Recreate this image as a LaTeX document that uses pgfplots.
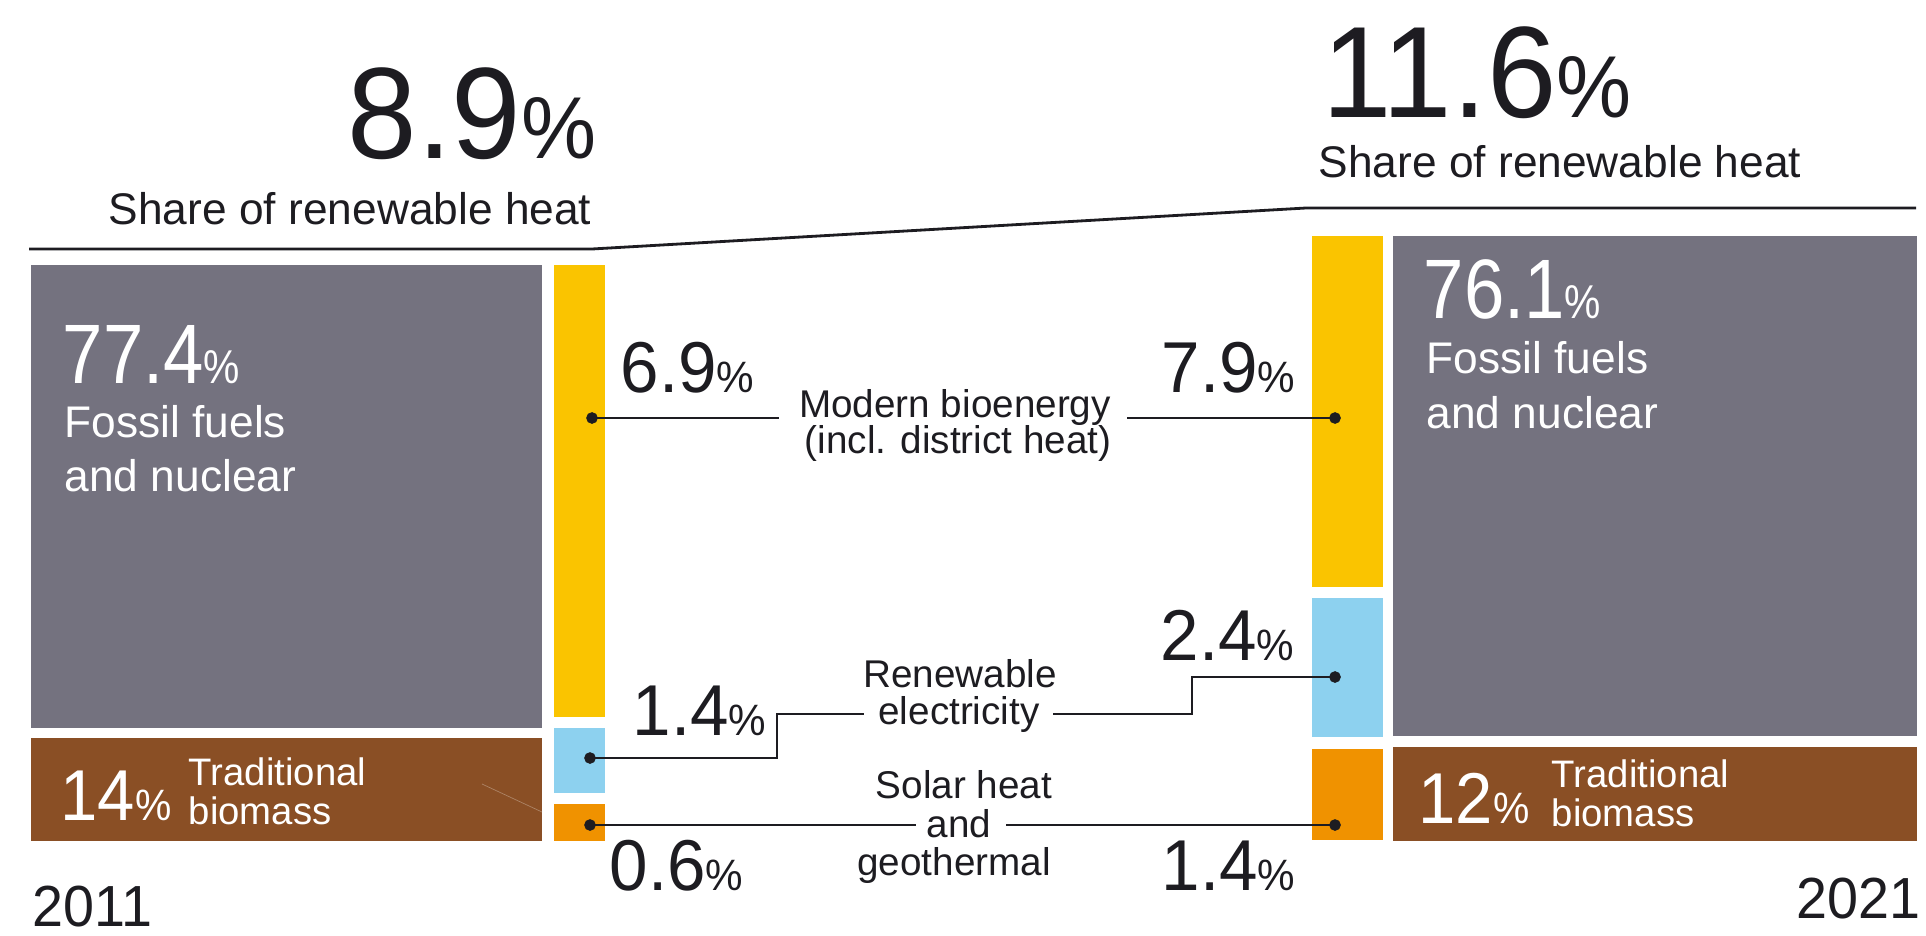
\documentclass[border=0pt]{standalone}
\usepackage{pgfplots}
\pgfplotsset{compat=1.18}
\usepackage{fontspec}
\setmainfont{Liberation Sans}
\newfontfamily\numA{Liberation Sans}[FakeStretch=0.86]
\newfontfamily\numB{Liberation Sans}[FakeStretch=0.93]
\newfontfamily\numC{Liberation Sans}[FakeStretch=0.96]
\definecolor{fossil}{HTML}{74727F}
\definecolor{trad}{HTML}{8A4F25}
\definecolor{bio}{HTML}{FAC400}
\definecolor{elec}{HTML}{8DD1EF}
\definecolor{solar}{HTML}{F09200}
\definecolor{ink}{HTML}{1D1C21}
\newcommand{\fs}[2]{\fontsize{#1}{#2}\selectfont}
\newcommand{\bignum}[1]{{\numC\fs{37}{37}#1}{\numC\fs{25}{25}\%}}
\newcommand{\midnum}[1]{{\numA\fs{24}{24}#1}{\numA\fs{13.5}{13.5}\%}}
\newcommand{\valnum}[1]{{\numC\fs{20.5}{20.5}#1}{\numC\fs{12.5}{12.5}\%}}
\tikzset{lab/.style={inner sep=0pt, text=ink}}
\begin{document}
\begin{tikzpicture}
\begin{axis}[
  width=19.26cm, height=9.35cm, scale only axis,
  xmin=0, xmax=1926, ymin=0, ymax=935, y dir=reverse,
  hide axis, clip=false,
  rect/.style={draw=none, mark=none, forget plot},
  conn/.style={ink, line width=0.45pt, mark=none, forget plot},
]
\addplot[draw=none, mark=none, forget plot] coordinates {(0,0) (1926,935)};
% 2011 blocks
\addplot[rect, fill=fossil] coordinates {(31,265) (542,265) (542,728) (31,728)} -- cycle;
\addplot[rect, fill=trad] coordinates {(31,738) (542,738) (542,841) (31,841)} -- cycle;
\addplot[rect, fill=bio] coordinates {(554,265) (605,265) (605,717) (554,717)} -- cycle;
\addplot[rect, fill=elec] coordinates {(554,728) (605,728) (605,793) (554,793)} -- cycle;
\addplot[rect, fill=solar] coordinates {(554,804) (605,804) (605,841) (554,841)} -- cycle;
\addplot[mark=none, forget plot, color=trad!70!white, line width=0.2pt] coordinates {(482,784) (542,812)};
% 2021 blocks
\addplot[rect, fill=bio] coordinates {(1312,236) (1383,236) (1383,587) (1312,587)} -- cycle;
\addplot[rect, fill=elec] coordinates {(1312,598) (1383,598) (1383,737) (1312,737)} -- cycle;
\addplot[rect, fill=solar] coordinates {(1312,749) (1383,749) (1383,840) (1312,840)} -- cycle;
\addplot[rect, fill=fossil] coordinates {(1393,236) (1917,236) (1917,736) (1393,736)} -- cycle;
\addplot[rect, fill=trad] coordinates {(1393,747) (1917,747) (1917,841) (1393,841)} -- cycle;
% top line
\addplot[ink, line width=0.8pt, mark=none, forget plot] coordinates {(29,249) (592,249) (1306,208) (1916,208)};
% connectors
\addplot[conn] coordinates {(592,418) (779,418)};
\addplot[conn] coordinates {(1127,418) (1335,418)};
\addplot[conn] coordinates {(590,758) (777,758) (777,714) (864,714)};
\addplot[conn] coordinates {(1053,714) (1192,714) (1192,677) (1335,677)};
\addplot[conn] coordinates {(590,825) (916,825)};
\addplot[conn] coordinates {(1006,825) (1335,825)};
\addplot[only marks, mark=*, mark size=1.45pt, color=ink, forget plot] coordinates {(592,418) (1335,418) (590,758) (1335,677) (590,825) (1335,825)};
% headline texts
\node[lab, anchor=base east] at (axis cs:597,159) {\bignum{8.9}};
\node[lab, anchor=base east] at (axis cs:592,225) {\fs{12.6}{14}Share of renewable heat};
\node[lab, anchor=base west] at (axis cs:1322,118) {\bignum{11.6}};
\node[lab, anchor=base west] at (axis cs:1318,178) {\fs{12.6}{14}Share of renewable heat};
% 2011 fossil / traditional
\node[lab, text=white, anchor=base west] at (axis cs:62,383) {\midnum{77.4}};
\node[lab, text=white, anchor=base west] at (axis cs:64,437) {\fs{12.6}{14}Fossil fuels};
\node[lab, text=white, anchor=base west] at (axis cs:64,491) {\fs{12.6}{14}and nuclear};
\node[lab, text=white, anchor=base west] at (axis cs:60,820) {{\numB\fs{20.5}{20.5}14}{\numB\fs{12.5}{12.5}\%}};
\node[lab, text=white, anchor=base west] at (axis cs:188,785) {\fs{10.9}{11}Traditional};
\node[lab, text=white, anchor=base west] at (axis cs:188,824) {\fs{10.9}{11}biomass};
% 2021 fossil / traditional
\node[lab, text=white, anchor=base west] at (axis cs:1423,318) {\midnum{76.1}};
\node[lab, text=white, anchor=base west] at (axis cs:1426,373) {\fs{12.6}{14}Fossil fuels};
\node[lab, text=white, anchor=base west] at (axis cs:1426,428) {\fs{12.6}{14}and nuclear};
\node[lab, text=white, anchor=base west] at (axis cs:1418,823) {{\numB\fs{20.5}{20.5}12}{\numB\fs{12.5}{12.5}\%}};
\node[lab, text=white, anchor=base west] at (axis cs:1551,787) {\fs{10.9}{11}Traditional};
\node[lab, text=white, anchor=base west] at (axis cs:1551,826) {\fs{10.9}{11}biomass};
% values
\node[lab, anchor=base west] at (axis cs:620,392) {\valnum{6.9}};
\node[lab, anchor=base west] at (axis cs:632,735) {\valnum{1.4}};
\node[lab, anchor=base west] at (axis cs:609,890) {\valnum{0.6}};
\node[lab, anchor=base east] at (axis cs:1296,392) {\valnum{7.9}};
\node[lab, anchor=base east] at (axis cs:1295,660) {\valnum{2.4}};
\node[lab, anchor=base east] at (axis cs:1296,890) {\valnum{1.4}};
% middle labels
\node[lab, anchor=base] at (axis cs:955,417) {\fs{11}{11}Modern bioenergy};
\node[lab, anchor=base] at (axis cs:958,453) {\fs{11}{11}(incl. district heat)};
\node[lab, anchor=base] at (axis cs:960,687) {\fs{11}{11}Renewable};
\node[lab, anchor=base] at (axis cs:959,724) {\fs{11}{11}electricity};
\node[lab, anchor=base] at (axis cs:964,798) {\fs{11}{11}Solar heat};
\node[lab, anchor=base] at (axis cs:959,837) {\fs{11}{11}and};
\node[lab, anchor=base] at (axis cs:954,875) {\fs{11}{11}geothermal};
% years
\node[lab, anchor=base west] at (axis cs:32,926) {\numC\fs{16.5}{17}2011};
\node[lab, anchor=base east] at (axis cs:1921,918) {\numC\fs{16.5}{17}2021};
\end{axis}
\end{tikzpicture}
\end{document}
